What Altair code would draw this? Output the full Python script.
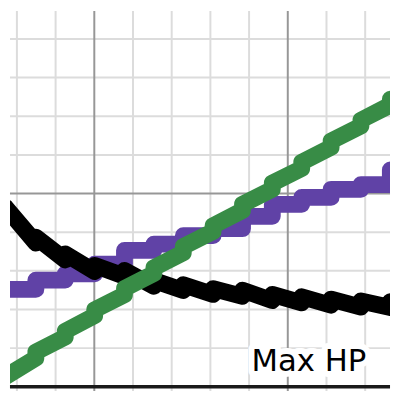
import altair as alt
import pandas as pd

# Node positions along x (grid units, minor grid = 1)
NODE_X = [2.72, 3.49, 4.25, 5.01, 5.78, 6.54, 7.30, 8.07, 8.83, 9.60, 10.36, 11.12, 11.89, 12.65]

# Black series: value on arrival at each node and on leaving it
BLACK_START = 4.63
BLACK_ARRIVE = [3.72, 3.28, 2.98, 2.86, 2.60, 2.49, 2.39, 2.34, 2.23, 2.17, 2.11, 2.06, 2.05]
BLACK_LEAVE = [3.87, 3.44, 3.14, 3.01, 2.75, 2.64, 2.54, 2.50, 2.39, 2.33, 2.27, 2.22, 2.20]

# Green series
GREEN_START = 0.27
GREEN_ARRIVE = [0.74, 1.29, 1.84, 2.38, 2.93, 3.47, 4.02, 4.56, 5.11, 5.65, 6.20, 6.75, 7.29]
GREEN_LEAVE = [0.90, 1.44, 1.99, 2.54, 3.08, 3.63, 4.17, 4.72, 5.27, 5.81, 6.36, 6.90, 7.44]

# Purple series: flat level between consecutive nodes, then final value
PURPLE_LEVELS = [2.52, 2.76, 2.92, 3.17, 3.53, 3.69, 3.91, 4.09, 4.41, 4.72, 4.90, 5.11, 5.23]
PURPLE_END = 5.61

GRID_X_MINOR = [3, 4, 6, 7, 8, 9, 11, 12]
GRID_X_MAJOR = [5, 10]
GRID_Y_MINOR = [1, 2, 3, 4, 6, 7, 8, 9]
GRID_Y_MAJOR = [5]
AXIS_Y = [0]

LABEL = "Max HP"
LABEL_X = 10.545
LABEL_Y = 0.41

X_DOMAIN = [2.821, 12.642]
Y_DOMAIN = [-0.110, 9.724]


def stepped(start, arrive, leave):
    rows = [(NODE_X[0], start)]
    for k in range(1, len(NODE_X)):
        rows.append((NODE_X[k], arrive[k - 1]))
        rows.append((NODE_X[k], leave[k - 1]))
    return rows


def flat(levels, end):
    rows = []
    for k, v in enumerate(levels):
        rows.append((NODE_X[k], v))
        rows.append((NODE_X[k + 1], v))
    rows.append((NODE_X[-1], end))
    return rows


def frame(rows):
    return pd.DataFrame({"x": [r[0] for r in rows], "y": [r[1] for r in rows], "i": list(range(len(rows)))})


xs = alt.Scale(domain=X_DOMAIN, nice=False, zero=False)
ys = alt.Scale(domain=Y_DOMAIN, nice=False, zero=False)


def vrules(vals, color, width):
    return alt.Chart(pd.DataFrame({"x": vals})).mark_rule(color=color, strokeWidth=width).encode(
        x=alt.X("x:Q", scale=xs, axis=None)
    )


def hrules(vals, color, width):
    return alt.Chart(pd.DataFrame({"y": vals})).mark_rule(color=color, strokeWidth=width).encode(
        y=alt.Y("y:Q", scale=ys, axis=None)
    )


def series(df, color):
    return alt.Chart(df).mark_line(
        color=color, strokeWidth=17, strokeCap="round", strokeJoin="round", clip=True
    ).encode(
        x=alt.X("x:Q", scale=xs, axis=None),
        y=alt.Y("y:Q", scale=ys, axis=None),
        order=alt.Order("i:Q"),
    )


label_df = pd.DataFrame({"x": [LABEL_X], "y": [LABEL_Y], "t": [LABEL]})
halo = alt.Chart(label_df).mark_text(
    font="DejaVu Sans", fontSize=31, align="center", baseline="alphabetic",
    fill="white", stroke="white", strokeWidth=12, strokeJoin="round",
).encode(x=alt.X("x:Q", scale=xs, axis=None), y=alt.Y("y:Q", scale=ys, axis=None), text="t:N")
text = alt.Chart(label_df).mark_text(
    font="DejaVu Sans", fontSize=31, align="center", baseline="alphabetic", color="black",
).encode(x=alt.X("x:Q", scale=xs, axis=None), y=alt.Y("y:Q", scale=ys, axis=None), text="t:N")

chart = alt.layer(
    vrules(GRID_X_MINOR, "#dcdcdc", 2),
    hrules(GRID_Y_MINOR, "#dcdcdc", 2),
    vrules(GRID_X_MAJOR, "#979797", 2),
    hrules(GRID_Y_MAJOR, "#979797", 2),
    hrules(AXIS_Y, "#1a1a1a", 3.5),
    series(frame(flat(PURPLE_LEVELS, PURPLE_END)), "#6042a6"),
    series(frame(stepped(BLACK_START, BLACK_ARRIVE, BLACK_LEAVE)), "#000000"),
    series(frame(stepped(GREEN_START, GREEN_ARRIVE, GREEN_LEAVE)), "#388c46"),
    halo,
    text,
).properties(width=384, height=384, padding=0, background="white").configure_view(stroke=None)

chart.save("out.html", embed_options={"renderer": "svg", "actions": False})
